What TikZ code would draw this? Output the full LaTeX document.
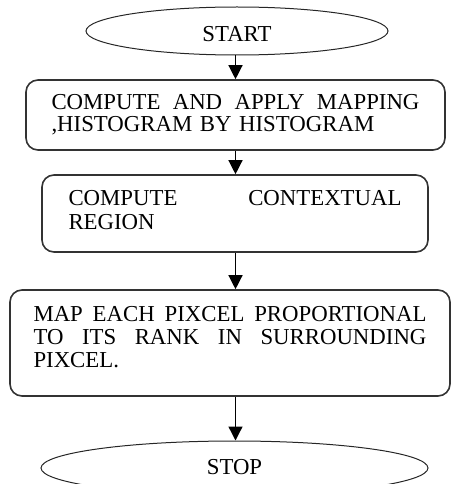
\documentclass[tikz,border=0pt]{standalone}
\usepackage{fontspec}
\setmainfont{Liberation Serif}
\usetikzlibrary{arrows.meta,shapes.geometric}
\begin{document}
\begin{tikzpicture}[x=1pt,y=-1pt,
  term/.style={ellipse, draw=black!85, line width=1pt, inner sep=0pt,
    font=\fontsize{22.8}{23}\selectfont},
  procbox/.style={rectangle, rounded corners=12pt, draw=black!80, line width=1.6pt,
    inner sep=0pt, align=left},
  arr/.style={line width=1.3pt, -{Triangle[width=14pt,length=14pt]}}]
\useasboundingbox (0,0) rectangle (450,484);
\coordinate (ax) at (235.5,0);
\node[term, minimum width=302pt, minimum height=48pt, text height=21.4pt, text depth=0pt]
  (start) at (237,31) {START};
\node[procbox, minimum width=419pt, minimum height=70pt, text width=368pt,
  text height=15pt, text depth=25pt, font=\fontsize{22.8}{22}\selectfont]
  (b1) at (235.5,115)
  {\makebox[368pt][l]{COMPUTE\hfill AND\hfill APPLY\hfill MAPPING}\\,HISTOGRAM BY HISTOGRAM};
\node[procbox, minimum width=386pt, minimum height=77pt, text width=333pt,
  text height=15pt, text depth=32pt, font=\fontsize{22.8}{24}\selectfont]
  (b2) at (235,213.5)
  {\makebox[333pt][l]{COMPUTE\hfill CONTEXTUAL}\\REGION};
\node[procbox, minimum width=440pt, minimum height=106pt, text width=393pt,
  text height=15pt, text depth=57.6pt, font=\fontsize{22.8}{23}\selectfont]
  (b3) at (230,343)
  {\makebox[393pt][l]{MAP\hfill EACH\hfill PIXCEL\hfill PROPORTIONAL}\\
   \makebox[393pt][l]{TO\hfill ITS\hfill RANK\hfill IN\hfill SURROUNDING}\\PIXCEL.};
\node[term, minimum width=387pt, minimum height=54pt, text height=15pt, text depth=3pt]
  (stop) at (234.5,468) {STOP};
\draw[arr] (start.south -| ax) -- (b1.north -| ax);
\draw[arr] (b1.south -| ax) -- (b2.north -| ax);
\draw[arr] (b2.south -| ax) -- (b3.north -| ax);
\draw[arr] (b3.south -| ax) -- (stop.north -| ax);
\end{tikzpicture}
\end{document}
